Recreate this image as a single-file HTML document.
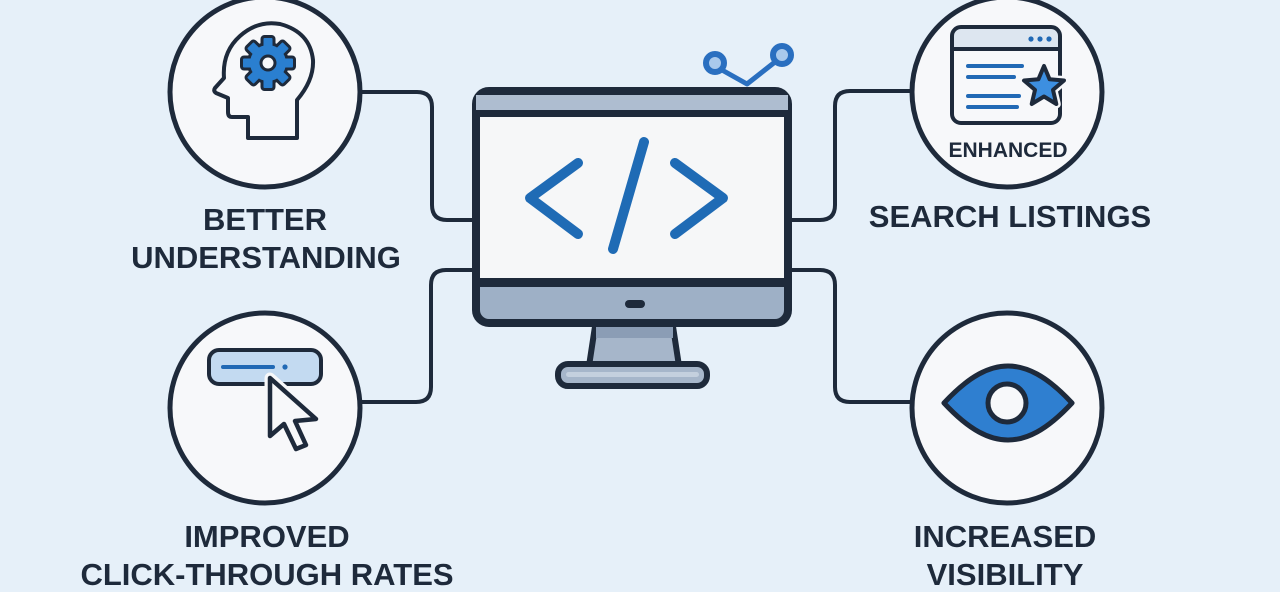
<!DOCTYPE html>
<html><head><meta charset="utf-8"><style>
html,body{margin:0;padding:0;background:#e6f0f9;}
svg{display:block;}
text{font-family:"Liberation Sans",Arial,sans-serif;font-weight:bold;fill:#1e2a3b;text-anchor:middle;}
</style></head><body>
<svg width="1280" height="592" viewBox="0 0 1280 592" xmlns="http://www.w3.org/2000/svg">
<rect width="1280" height="592" fill="#e6f0f9"/>
<!-- connectors -->
<g fill="none" stroke="#1e2a3b" stroke-width="4" stroke-linecap="round" stroke-linejoin="round">
<path d="M360,92 H417 Q432,92 432,107 V205 Q432,220 447,220 H474"/>
<path d="M360,402 H416 Q431,402 431,387 V285 Q431,270 446,270 H474"/>
<path d="M912,91 H850 Q835,91 835,106 V205 Q835,220 820,220 H790"/>
<path d="M912,402 H850 Q835,402 835,387 V285 Q835,270 820,270 H790"/>
</g>
<!-- circles -->
<g fill="#f7f8fa" stroke="#1e2a3b" stroke-width="5">
<circle cx="265" cy="92" r="95"/>
<circle cx="1007" cy="92" r="95"/>
<circle cx="265" cy="408" r="95"/>
<circle cx="1007" cy="408" r="95"/>
</g>
<!-- head -->
<path d="M297,138 H248 V117 H232 Q228,117 228,112 V98 L216,93 Q213,91 215,88 L224,78 Q222,52 240,36 Q258,20 280,24 Q310,32 313,60 Q314,80 297,100 Z" fill="#f7f8fa" stroke="#1e2a3b" stroke-width="4" stroke-linejoin="round"/>
<!-- gear -->
<g stroke="#1e2a3b" stroke-width="6" fill="#1e2a3b" transform="translate(268,63)">
<circle r="18"/>
<rect x="-4.5" y="-25" width="9" height="10" rx="1"/>
<rect x="-4.5" y="-25" width="9" height="10" rx="1" transform="rotate(45)"/>
<rect x="-4.5" y="-25" width="9" height="10" rx="1" transform="rotate(90)"/>
<rect x="-4.5" y="-25" width="9" height="10" rx="1" transform="rotate(135)"/>
<rect x="-4.5" y="-25" width="9" height="10" rx="1" transform="rotate(180)"/>
<rect x="-4.5" y="-25" width="9" height="10" rx="1" transform="rotate(225)"/>
<rect x="-4.5" y="-25" width="9" height="10" rx="1" transform="rotate(270)"/>
<rect x="-4.5" y="-25" width="9" height="10" rx="1" transform="rotate(315)"/>
</g>
<g fill="#2a7fd0" transform="translate(268,63)">
<circle r="18"/>
<rect x="-4.5" y="-25" width="9" height="10" rx="1"/>
<rect x="-4.5" y="-25" width="9" height="10" rx="1" transform="rotate(45)"/>
<rect x="-4.5" y="-25" width="9" height="10" rx="1" transform="rotate(90)"/>
<rect x="-4.5" y="-25" width="9" height="10" rx="1" transform="rotate(135)"/>
<rect x="-4.5" y="-25" width="9" height="10" rx="1" transform="rotate(180)"/>
<rect x="-4.5" y="-25" width="9" height="10" rx="1" transform="rotate(225)"/>
<rect x="-4.5" y="-25" width="9" height="10" rx="1" transform="rotate(270)"/>
<rect x="-4.5" y="-25" width="9" height="10" rx="1" transform="rotate(315)"/>
<circle r="7" fill="#f7f8fa" stroke="#1e2a3b" stroke-width="3"/>
</g>
<!-- browser icon -->
<rect x="952" y="27" width="108" height="96" rx="9" fill="#f7f8fa"/>
<rect x="952" y="27" width="108" height="22" rx="9" fill="#dde6f0"/>
<rect x="952" y="38" width="108" height="11" fill="#dde6f0"/>
<line x1="952" y1="49" x2="1060" y2="49" stroke="#1e2a3b" stroke-width="4"/>
<rect x="952" y="27" width="108" height="96" rx="9" fill="none" stroke="#1e2a3b" stroke-width="4"/>
<g fill="#2169b5"><circle cx="1031" cy="39" r="2.6"/><circle cx="1040" cy="39" r="2.6"/><circle cx="1049" cy="39" r="2.6"/></g>
<g stroke="#2169b5" stroke-width="4" stroke-linecap="round">
<line x1="968" y1="66" x2="1022" y2="66"/>
<line x1="968" y1="77" x2="1014" y2="77"/>
<line x1="968" y1="96" x2="1019" y2="96"/>
<line x1="968" y1="107" x2="1017" y2="107"/>
</g>
<polygon points="1044,66 1049.6,79.3 1064,80.5 1053,89.9 1056.3,104 1044,96.5 1031.7,104 1035,89.9 1024,80.5 1038.4,79.3" fill="#3d8fe0" stroke="#f7f8fa" stroke-width="9" stroke-linejoin="round"/>
<polygon points="1044,66 1049.6,79.3 1064,80.5 1053,89.9 1056.3,104 1044,96.5 1031.7,104 1035,89.9 1024,80.5 1038.4,79.3" fill="#3d8fe0" stroke="#1e2a3b" stroke-width="4" stroke-linejoin="round"/>
<!-- button & cursor -->
<rect x="209" y="350" width="112" height="34" rx="10" fill="#c3daf1" stroke="#1e2a3b" stroke-width="4"/>
<line x1="223" y1="367" x2="273" y2="367" stroke="#2169b5" stroke-width="4" stroke-linecap="round"/>
<circle cx="285" cy="367" r="2.6" fill="#2169b5"/>
<polygon points="270,378 270,436 284,424 296,449 306,445 295,421 316,419" fill="#f7f8fa" stroke="#f7f8fa" stroke-width="11" stroke-linejoin="round"/>
<polygon points="270,378 270,436 284,424 296,449 306,445 295,421 316,419" fill="#f7f8fa" stroke="#1e2a3b" stroke-width="4.5" stroke-linejoin="round"/>
<!-- eye -->
<path d="M944,403 C970,375 990,366 1008,366 C1026,366 1046,375 1072,403 C1046,431 1026,440 1008,440 C990,440 970,431 944,403 Z" fill="#2f7fd0" stroke="#1e2a3b" stroke-width="5" stroke-linejoin="round"/>
<circle cx="1007" cy="403" r="19" fill="#f7f8fa" stroke="#1e2a3b" stroke-width="5"/>
<!-- monitor stand -->
<polygon points="596,320 672,320 679,366 589,366" fill="#a6b6ca" stroke="#1e2a3b" stroke-width="6" stroke-linejoin="round"/>
<rect x="596" y="326" width="77" height="12" fill="#8b9db5"/>
<rect x="558" y="364" width="149" height="22" rx="10" fill="#a6b6ca" stroke="#1e2a3b" stroke-width="6"/>
<rect x="566" y="372" width="133" height="5" rx="2.5" fill="#c4d0de"/>
<!-- monitor body -->
<rect x="476" y="91" width="312" height="232" rx="13" fill="#9eb0c6" stroke="#1e2a3b" stroke-width="8"/>
<rect x="476" y="95" width="312" height="15" fill="#aebdd0"/>
<rect x="476" y="110" width="312" height="177" fill="#1e2a3b"/>
<rect x="480" y="117" width="304" height="161" fill="#f6f7f8"/>
<rect x="625" y="300" width="20" height="8" rx="4" fill="#1e2a3b"/>
<!-- code symbol -->
<g fill="none" stroke="#1f6bb5" stroke-width="10" stroke-linecap="round" stroke-linejoin="round">
<polyline points="578,163 530,198 578,234"/>
<polyline points="675,163 723,198 675,234"/>
<line x1="644" y1="142" x2="613" y2="249"/>
</g>
<!-- branch icon -->
<g fill="none" stroke="#2a6fc0" stroke-width="5" stroke-linecap="round" stroke-linejoin="round">
<polyline points="722,70 747,84 775,62"/>
</g>
<circle cx="715" cy="63" r="9" fill="#a9c9ec" stroke="#2a6fc0" stroke-width="6"/>
<circle cx="782" cy="55" r="9" fill="#a9c9ec" stroke="#2a6fc0" stroke-width="6"/>
<!-- labels -->
<text x="265" y="230" font-size="31">BETTER</text>
<text x="266" y="268" font-size="31">UNDERSTANDING</text>
<text x="1008" y="157" font-size="21">ENHANCED</text>
<text x="1010" y="227" font-size="31">SEARCH LISTINGS</text>
<text x="267" y="547" font-size="31">IMPROVED</text>
<text x="267" y="585" font-size="31">CLICK-THROUGH RATES</text>
<text x="1005" y="547" font-size="31">INCREASED</text>
<text x="1005" y="585" font-size="31">VISIBILITY</text>
</svg>
</body></html>
